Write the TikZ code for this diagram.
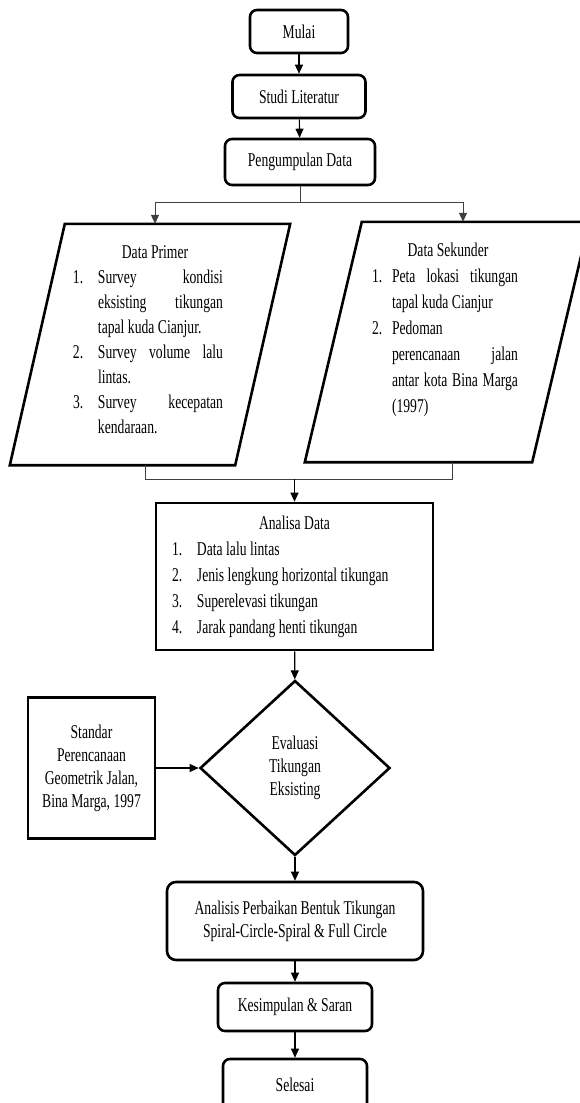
\documentclass[tikz,border=0pt]{standalone}
\usepackage{fontspec}
\setmainfont{Liberation Serif}[FakeStretch=0.7]
\usetikzlibrary{shapes.geometric,arrows.meta}

\begin{document}
\begin{tikzpicture}[x=1pt,y=-1pt,
    roundbox/.style={draw,rounded corners=7pt,line width=2.6pt,inner sep=0pt,
        font=\fontsize{19.5}{23}\selectfont,align=center},
    squarebox/.style={draw,line width=2.6pt,inner sep=0pt,
        font=\fontsize{19.5}{23}\selectfont,align=center},
    datafield/.style={inner sep=0pt},
    datatext/.style={inner sep=0pt,align=left},
    decision/.style={draw,diamond,line width=2.6pt,inner sep=0pt,
        font=\fontsize{19.5}{23}\selectfont,align=center},
    flow/.style={line width=1.1pt,-{Triangle[length=9pt,width=8pt]}},
    branch/.style={line width=0.8pt,black!75}]

    \clip (0,0) rectangle (580,1103);

    % Start and first steps
    \node[roundbox,minimum width=98pt,minimum height=43pt] (mulai) at (299,31.5) {Mulai};
    \node[roundbox,minimum width=133pt,minimum height=43pt] (studi) at (299,96.5) {Studi Literatur};
    \node[roundbox,minimum width=150pt,minimum height=46pt] (kumpul) at (300,162) {Pengumpulan Data};

    % Data Primer (parallelogram)
    \node[datafield,minimum width=225pt,minimum height=241pt] (primer) at (150,344.5) {};
    \draw[line width=2.6pt] ([xshift=27.5pt]primer.north west) -- ([xshift=27.5pt]primer.north east)
        -- ([xshift=-27.5pt]primer.south east) -- ([xshift=-27.5pt]primer.south west) -- cycle;
    \node[datatext,font=\fontsize{19.5}{25}\selectfont] (primertext) at (148,340) {%
        \makebox[150pt]{\hspace{14pt}Data Primer}\\
        \makebox[25pt][l]{1.}\makebox[125pt][s]{Survey kondisi}\\
        \makebox[25pt][l]{}\makebox[125pt][s]{eksisting tikungan}\\
        \makebox[25pt][l]{}tapal kuda Cianjur.\\
        \makebox[25pt][l]{2.}\makebox[125pt][s]{Survey volume lalu}\\
        \makebox[25pt][l]{}lintas.\\
        \makebox[25pt][l]{3.}\makebox[125pt][s]{Survey kecepatan}\\
        \makebox[25pt][l]{}kendaraan.};

    % Data Sekunder (parallelogram)
    \node[datafield,minimum width=227pt,minimum height=240pt] (sekunder) at (447,342) {};
    \draw[line width=2.6pt] ([xshift=28.5pt]sekunder.north west) -- ([xshift=28.5pt]sekunder.north east)
        -- ([xshift=-28.5pt]sekunder.south east) -- ([xshift=-28.5pt]sekunder.south west) -- cycle;
    \node[datatext,font=\fontsize{19.5}{26}\selectfont] (sekundertext) at (445,330) {%
        \makebox[146pt]{\hspace{6pt}Data Sekunder}\\
        \makebox[20pt][l]{1.}\makebox[126pt][s]{Peta lokasi tikungan}\\
        \makebox[20pt][l]{}tapal kuda Cianjur\\
        \makebox[20pt][l]{2.}Pedoman\\
        \makebox[20pt][l]{}\makebox[126pt][s]{perencanaan jalan}\\
        \makebox[20pt][l]{}\makebox[126pt][s]{antar kota Bina Marga}\\
        \makebox[20pt][l]{}(1997)};

    % Analysis
    \node[squarebox,align=left,text width=245pt,inner xsep=16pt,minimum width=277pt,minimum height=147pt,
        font=\fontsize{19.5}{26}\selectfont] (analisa) at (294.5,576.5) {\spaceskip=0pt\xspaceskip=0pt%
        \makebox[245pt]{Analisa Data}\\
        \makebox[25pt][l]{1.}Data lalu lintas\\
        \makebox[25pt][l]{2.}Jenis lengkung horizontal tikungan\\
        \makebox[25pt][l]{3.}Superelevasi tikungan\\
        \makebox[25pt][l]{4.}Jarak pandang henti tikungan};

    % Evaluation with standard
    \node[decision,minimum width=190pt,minimum height=175pt] (evaluasi) at (295,768) {Evaluasi\\Tikungan\\Eksisting};
    \node[squarebox,minimum width=127pt,minimum height=141pt] (standar) at (91.5,768) {Standar\\Perencanaan\\Geometrik Jalan,\\Bina Marga, 1997};

    % Final steps
    \node[roundbox,rounded corners=9pt,minimum width=256pt,minimum height=78pt] (analisis) at (295,921)
        {Analisis Perbaikan Bentuk Tikungan\\Spiral-Circle-Spiral \& Full Circle};
    \node[roundbox,minimum width=154pt,minimum height=48pt] (simpulan) at (295,1007) {Kesimpulan \& Saran};
    \node[roundbox,minimum width=144pt,minimum height=52pt] (selesai) at (295,1085) {Selesai};

    % Connectors
    \coordinate (split) at (300,202);
    \coordinate (merge) at (294.5,479);
    \draw[flow] (mulai) -- (studi);
    \draw[flow] (studi) -- (kumpul);
    \draw[branch] (kumpul) -- (split);
    \draw[flow,branch] (split) -| ([xshift=5pt]primer.north);
    \draw[flow,branch] (split) -| ([xshift=16pt]sekunder.north);
    \draw[branch] ([xshift=-5pt]primer.south) |- (merge);
    \draw[branch] ([xshift=5pt]sekunder.south) |- (merge);
    \draw[flow] (merge) -- (analisa);
    \draw[flow] (analisa) -- (evaluasi);
    \draw[flow] (standar) -- (evaluasi);
    \draw[flow] (evaluasi) -- (analisis);
    \draw[flow] (analisis) -- (simpulan);
    \draw[flow] (simpulan) -- (selesai);

\end{tikzpicture}
\end{document}
